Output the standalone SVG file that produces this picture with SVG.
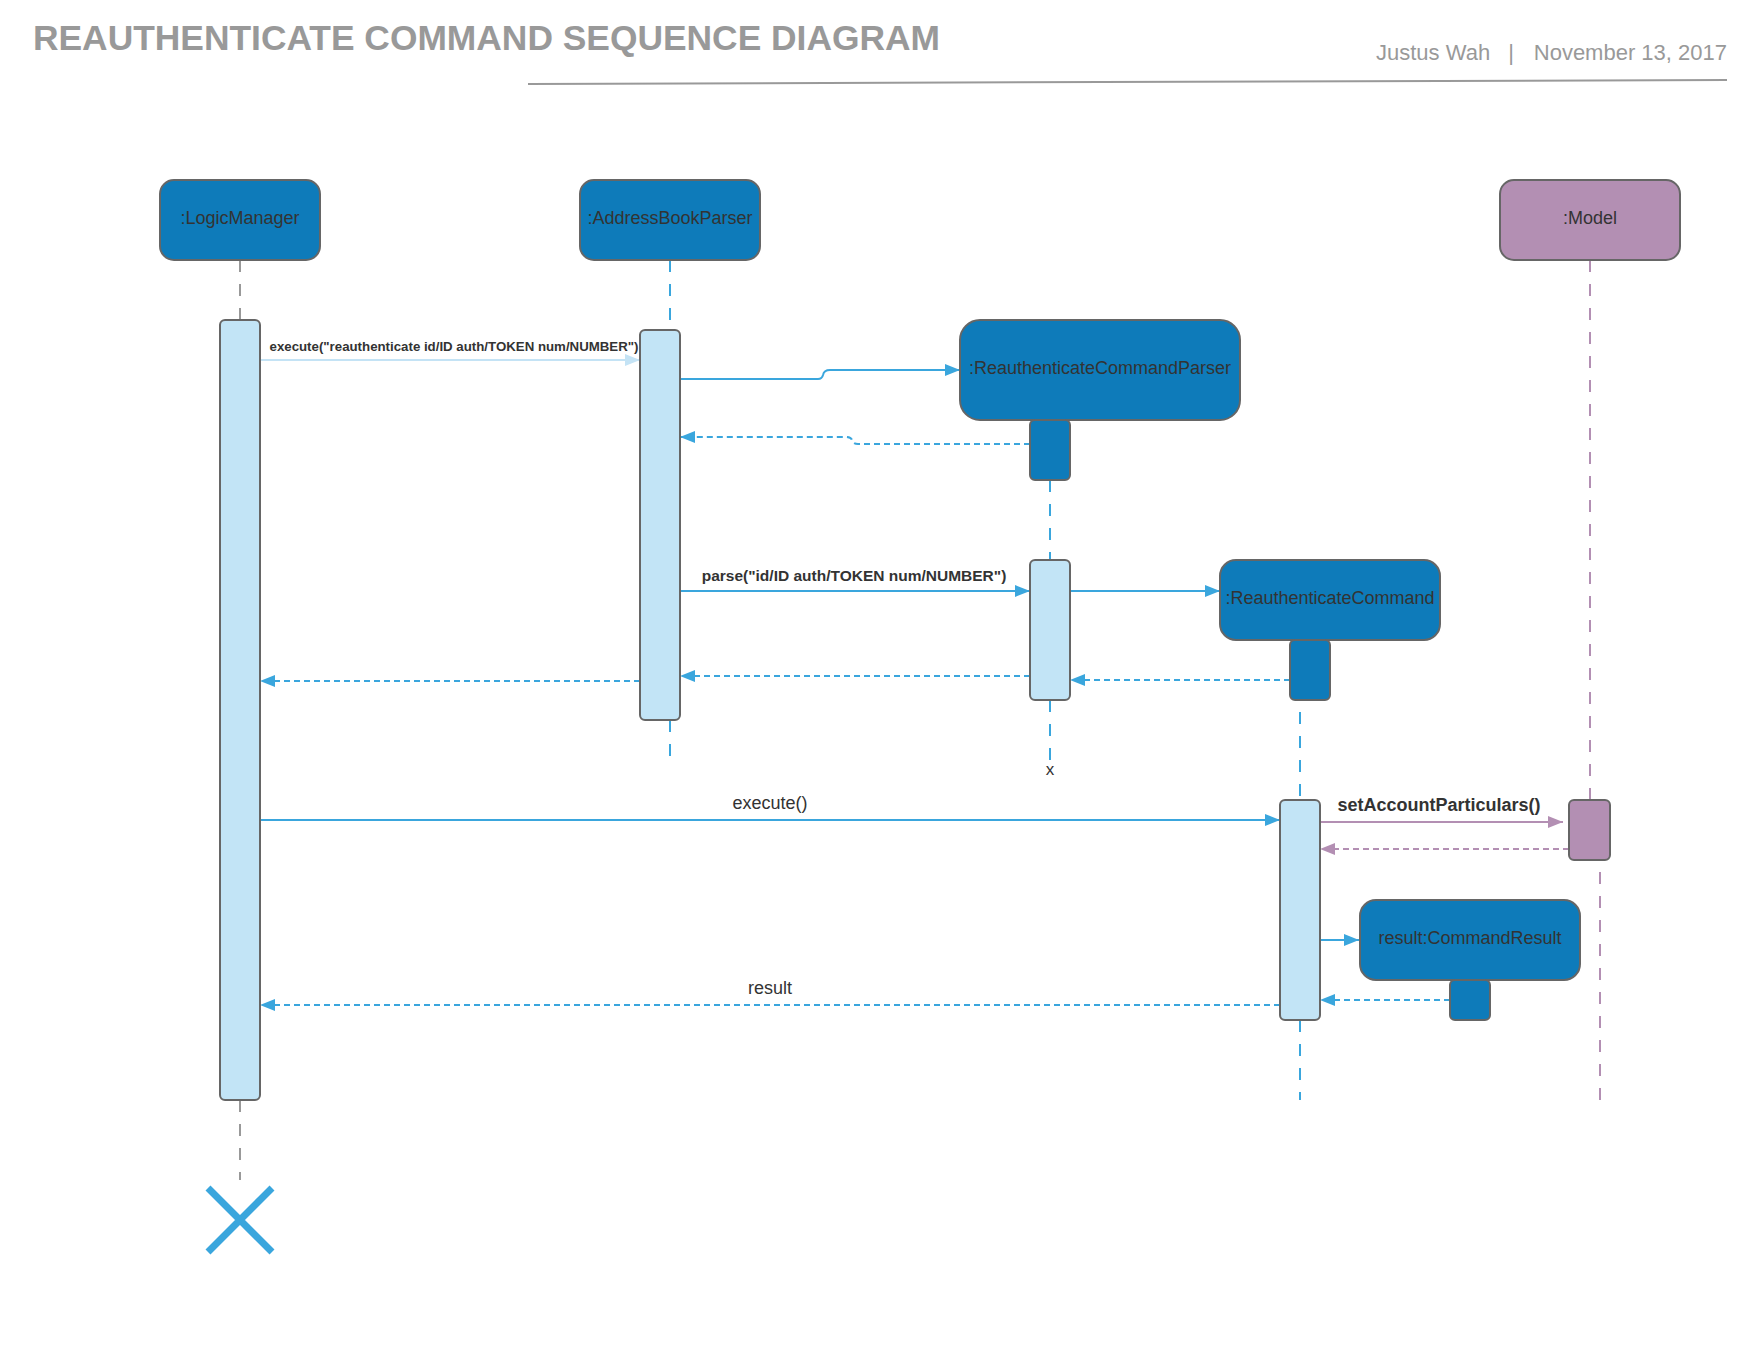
<svg xmlns="http://www.w3.org/2000/svg" width="1760" height="1360" viewBox="0 0 1760 1360">
<style>
.title{font-family:"Liberation Sans",Arial,sans-serif;font-weight:bold;font-size:35px;fill:#999}
.meta{font-family:"Liberation Sans",Arial,sans-serif;font-size:22px;fill:#999}
.box{fill:#0e7bba;stroke:#666;stroke-width:2}
.mbox{fill:#b38fb3;stroke:#666;stroke-width:2}
.bar{fill:#c2e4f6;stroke:#666;stroke-width:2}
.lbl{font-family:"Liberation Sans",Arial,sans-serif;font-size:18px;fill:#333;text-anchor:middle}
.msg{font-family:"Liberation Sans",Arial,sans-serif;fill:#333;text-anchor:middle}
.ll{fill:none;stroke:#3aa6dd;stroke-width:2;stroke-dasharray:12 12}
.llg{fill:none;stroke:#999;stroke-width:2;stroke-dasharray:12 12}
.llp{fill:none;stroke:#b38fb3;stroke-width:2;stroke-dasharray:12 12}
.call{fill:none;stroke:#3aa6dd;stroke-width:2}
.ret{fill:none;stroke:#3aa6dd;stroke-width:2;stroke-dasharray:6 4}
</style>
<defs>
<marker id="ab" viewBox="0 0 15 12" refX="15" refY="6" markerWidth="15" markerHeight="12" markerUnits="userSpaceOnUse" orient="auto"><path d="M0,0 L15,6 L0,12 z" fill="#3aa6dd"/></marker>
<marker id="alb" viewBox="0 0 15 12" refX="15" refY="6" markerWidth="15" markerHeight="12" markerUnits="userSpaceOnUse" orient="auto"><path d="M0,0 L15,6 L0,12 z" fill="#c4e3f5"/></marker>
<marker id="ap" viewBox="0 0 15 12" refX="15" refY="6" markerWidth="15" markerHeight="12" markerUnits="userSpaceOnUse" orient="auto"><path d="M0,0 L15,6 L0,12 z" fill="#b38fb3"/></marker>
</defs>
<rect width="1760" height="1360" fill="#fff"/>
<g id="header">
<text class="title" x="33" y="50" textLength="907" lengthAdjust="spacingAndGlyphs">REAUTHENTICATE COMMAND SEQUENCE DIAGRAM</text>
<text class="meta" x="1376" y="60">Justus Wah</text>
<text class="meta" x="1511" y="60" text-anchor="middle">|</text>
<text class="meta" x="1727" y="60" text-anchor="end">November 13, 2017</text>
<path d="M528 84 L1727 80" stroke="#999" stroke-width="2" fill="none"/>
</g>
<g id="lifelines">
<path class="llg" d="M240 260 V320"/>
<path class="llg" d="M240 1100 V1180"/>
<path class="ll" d="M670 260 V330"/>
<path class="ll" d="M670 720 V760"/>
<path class="ll" d="M1050 480 V560"/>
<path class="ll" d="M1050 700 V760"/>
<path class="ll" d="M1300 640 V800"/>
<path class="ll" d="M1300 1020 V1100"/>
<path class="llp" d="M1590 260 V800"/>
<path class="llp" d="M1600 860 V1100" stroke-dashoffset="12"/>
</g>
<g id="connectors">
<path d="M260 360 H640" fill="none" stroke="#c4e3f5" stroke-width="2" marker-end="url(#alb)"/>
<path class="call" d="M680 379 H818 Q822 379 823 375 Q824 370 830 370 H960" marker-end="url(#ab)"/>
<path class="ret" d="M1030 444 H858 Q853 444 852 440 Q851 437 846 437 H680" marker-end="url(#ab)"/>
<path class="call" d="M680 591 H1030" marker-end="url(#ab)"/>
<path class="call" d="M1070 591 H1220" marker-end="url(#ab)"/>
<path class="ret" d="M1290 680 H1070" marker-end="url(#ab)"/>
<path class="ret" d="M1030 676 H680" marker-end="url(#ab)"/>
<path class="ret" d="M640 681 H260" marker-end="url(#ab)"/>
<path class="call" d="M260 820 H1280" marker-end="url(#ab)"/>
<path d="M1320 822 H1563" fill="none" stroke="#b38fb3" stroke-width="2" marker-end="url(#ap)"/>
<path d="M1569 849 H1320" fill="none" stroke="#b38fb3" stroke-width="2" stroke-dasharray="6 4" marker-end="url(#ap)"/>
<path class="call" d="M1320 940 H1359" marker-end="url(#ab)"/>
<path class="ret" d="M1450 1000 H1320" marker-end="url(#ab)"/>
<path class="ret" d="M1280 1005 H260" marker-end="url(#ab)"/>
<path d="M208 1188 L272 1252 M272 1188 L208 1252" stroke="#3aa6dd" stroke-width="7" fill="none"/>
</g>
<g id="labels">
<text class="msg" x="454" y="351" font-size="13" font-weight="bold" textLength="369" lengthAdjust="spacingAndGlyphs">execute("reauthenticate id/ID auth/TOKEN num/NUMBER")</text>
<text class="msg" x="854" y="581" font-size="15.5" font-weight="bold">parse("id/ID auth/TOKEN num/NUMBER")</text>
<text class="msg" x="1050" y="775" font-size="17" fill="#111">x</text>
<text class="msg" x="770" y="809" font-size="18">execute()</text>
<text class="msg" x="1439" y="811" font-size="18" font-weight="bold">setAccountParticulars()</text>
<text class="msg" x="770" y="994" font-size="18">result</text>
</g>
<g id="LogicManager">
<rect class="box" x="160" y="180" width="160" height="80" rx="14"/>
<text class="lbl" x="240" y="224">:LogicManager</text>
<rect class="bar" x="220" y="320" width="40" height="780" rx="5"/>
</g>
<g id="AddressBookParser">
<rect class="box" x="580" y="180" width="180" height="80" rx="14"/>
<text class="lbl" x="670" y="224">:AddressBookParser</text>
<rect class="bar" x="640" y="330" width="40" height="390" rx="5"/>
</g>
<g id="ReauthenticateCommandParser">
<rect class="box" x="960" y="320" width="280" height="100" rx="20"/>
<text class="lbl" x="1100" y="374">:ReauthenticateCommandParser</text>
<rect class="box" x="1030" y="420" width="40" height="60" rx="5"/>
<rect class="bar" x="1030" y="560" width="40" height="140" rx="5"/>
</g>
<g id="ReauthenticateCommand">
<rect class="box" x="1220" y="560" width="220" height="80" rx="16"/>
<text class="lbl" x="1330" y="604">:ReauthenticateCommand</text>
<rect class="box" x="1290" y="640" width="40" height="60" rx="5"/>
<rect class="bar" x="1280" y="800" width="40" height="220" rx="5"/>
</g>
<g id="Model">
<rect class="mbox" x="1500" y="180" width="180" height="80" rx="14"/>
<text class="lbl" x="1590" y="224">:Model</text>
<rect class="mbox" x="1569" y="800" width="41" height="60" rx="5"/>
</g>
<g id="CommandResult">
<rect class="box" x="1360" y="900" width="220" height="80" rx="16"/>
<text class="lbl" x="1470" y="944">result:CommandResult</text>
<rect class="box" x="1450" y="980" width="40" height="40" rx="5"/>
</g>
</svg>
